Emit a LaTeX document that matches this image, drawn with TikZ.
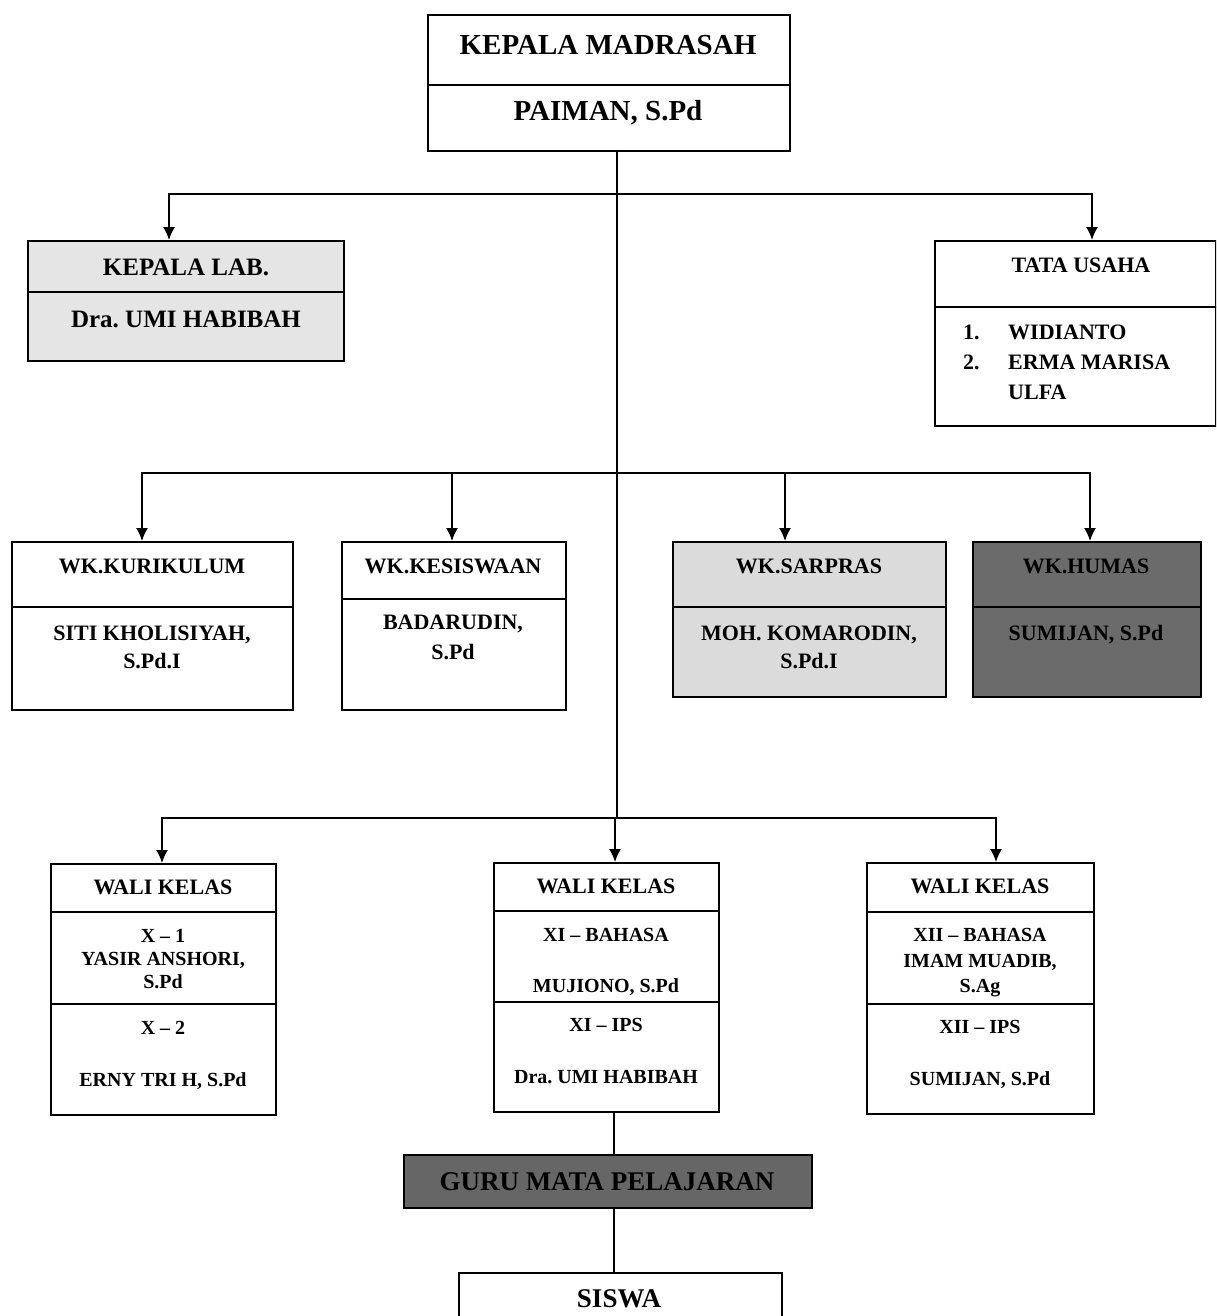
\documentclass[tikz,border=0pt]{standalone}
\usepackage{fontspec}
\setmainfont{Liberation Serif}
\usetikzlibrary{arrows.meta}
\frenchspacing
\begin{document}
\begin{tikzpicture}[x=1pt,y=-1pt,
  box/.style={draw, line width=1.6pt, inner sep=0pt, anchor=north west},
  ln/.style={line width=1.6pt},
  arr/.style={line width=1.6pt, -{Latex[length=13pt,width=12pt]}},
  tA/.style={font=\bfseries\fontsize{29}{34}\selectfont, anchor=base, inner sep=0pt},
  tB/.style={font=\bfseries\fontsize{25}{30}\selectfont, anchor=base, inner sep=0pt},
  tC/.style={font=\bfseries\fontsize{22}{28}\selectfont, anchor=base, inner sep=0pt},
  tD/.style={font=\bfseries\fontsize{20}{24}\selectfont, anchor=base, inner sep=0pt},
  tE/.style={font=\bfseries\fontsize{27}{32}\selectfont, anchor=base, inner sep=0pt},
  tW/.style={font=\bfseries\fontsize{22}{28}\selectfont, anchor=base west, inner sep=0pt}]
\useasboundingbox (0,0) rectangle (1216,1316);
\clip (0,0) rectangle (1216,1316);
\fill[white] (0,0) rectangle (1216,1316);

% ---- boxes ----
\node[box, minimum width=362, minimum height=136] (kepala) at (427,14) {};
\node[box, fill=black!10, minimum width=316, minimum height=120] (lab) at (27,240) {};
\node[box, minimum width=281, minimum height=185] (tu) at (934,240) {};
\node[box, minimum width=281, minimum height=168] (wk1) at (11,541) {};
\node[box, minimum width=224, minimum height=168] (wk2) at (341,541) {};
\node[box, fill=black!14, minimum width=273, minimum height=155] (wk3) at (672,541) {};
\node[box, fill=black!58, minimum width=228, minimum height=155] (wk4) at (972,541) {};
\node[box, minimum width=225, minimum height=251] (wl1) at (50,863) {};
\node[box, minimum width=225, minimum height=249] (wl2) at (493,862) {};
\node[box, minimum width=227, minimum height=251] (wl3) at (866,862) {};
\node[box, fill=black!60, minimum width=408, minimum height=53] (guru) at (403,1154) {};
\node[box, minimum width=323, minimum height=90] (siswa) at (458,1272) {};

% ---- dividers ----
\draw[ln] (kepala.west |- 0,85) -- (kepala.east |- 0,85);
\draw[ln] (lab.west |- 0,292) -- (lab.east |- 0,292);
\draw[ln] (tu.west |- 0,307) -- (tu.east |- 0,307);
\draw[ln] (wk1.west |- 0,607) -- (wk1.east |- 0,607);
\draw[ln] (wk2.west |- 0,599) -- (wk2.east |- 0,599);
\draw[ln] (wk3.west |- 0,607) -- (wk3.east |- 0,607);
\draw[ln] (wk4.west |- 0,607) -- (wk4.east |- 0,607);
\draw[ln] (wl1.west |- 0,912) -- (wl1.east |- 0,912);
\draw[ln] (wl1.west |- 0,1004) -- (wl1.east |- 0,1004);
\draw[ln] (wl2.west |- 0,911) -- (wl2.east |- 0,911);
\draw[ln] (wl2.west |- 0,1002) -- (wl2.east |- 0,1002);
\draw[ln] (wl3.west |- 0,912) -- (wl3.east |- 0,912);
\draw[ln] (wl3.west |- 0,1004) -- (wl3.east |- 0,1004);

% ---- connectors ----
\coordinate (t0) at (617,150);
\coordinate (j1) at (617,194);
\coordinate (j2) at (617,473);
\coordinate (j3) at (617,818);
\coordinate (aLab) at (169,240);
\coordinate (aTU) at (1092,240);
\coordinate (aW1) at (142,541);
\coordinate (aW2) at (452,541);
\coordinate (aW3) at (785,541);
\coordinate (aW4) at (1090,541);
\coordinate (aL1) at (162,863);
\coordinate (aL2) at (615,862);
\coordinate (aL3) at (996,862);
\draw[ln] (t0) -- (j3);
\draw[arr] (j1) -| (aLab);
\draw[arr] (j1) -| (aTU);
\draw[arr] (j2) -| (aW1);
\draw[arr] (j2) -| (aW2);
\draw[arr] (j2) -| (aW3);
\draw[arr] (j2) -| (aW4);
\draw[arr] (j3) -| (aL1);
\draw[arr] (j3) -| (aL2);
\draw[arr] (j3) -| (aL3);
\coordinate (g0) at (614,1111);
\coordinate (g1) at (614,1154);
\coordinate (s0) at (614,1207);
\coordinate (s1) at (614,1272);
\draw[ln] (g0) -- (g1);
\draw[ln] (s0) -- (s1);

% ---- texts ----
\node[tA] (tx1) at (608,55) {KEPALA MADRASAH};
\node[tA] (tx2) at (608,121) {PAIMAN, S.Pd};
\node[tB] (tx3) at (186,275) {KEPALA LAB.};
\node[tB] (tx4) at (186,327) {Dra. UMI HABIBAH};
\node[tC] (tx5) at (1081,272) {TATA USAHA};
\node[tW] (tx6) at (963,339) {1.};
\node[tW] (tx7) at (1008,339) {WIDIANTO};
\node[tW] (tx8) at (963,369) {2.};
\node[tW] (tx9) at (1008,369) {ERMA MARISA};
\node[tW] (tx10) at (1008,399) {ULFA};

\node[tC] (tx11) at (152,573) {WK.KURIKULUM};
\node[tC] (tx12) at (152,640) {SITI KHOLISIYAH,};
\node[tC] (tx13) at (152,668) {S.Pd.I};
\node[tC] (tx14) at (453,573) {WK.KESISWAAN};
\node[tC] (tx15) at (453,629) {BADARUDIN,};
\node[tC] (tx16) at (453,659) {S.Pd};
\node[tC] (tx17) at (809,573) {WK.SARPRAS};
\node[tC] (tx18) at (809,640) {MOH. KOMARODIN,};
\node[tC] (tx19) at (809,668) {S.Pd.I};
\node[tC] (tx20) at (1086,573) {WK.HUMAS};
\node[tC] (tx21) at (1086,640) {SUMIJAN, S.Pd};

\node[tC] (tx22) at (163,894) {WALI KELAS};
\node[tD] (tx23) at (163,942) {X -- 1};
\node[tD] (tx24) at (163,965) {YASIR ANSHORI,};
\node[tD] (tx25) at (163,988) {S.Pd};
\node[tD] (tx26) at (163,1034) {X -- 2};
\node[tD] (tx27) at (163,1086) {ERNY TRI H, S.Pd};

\node[tC] (tx28) at (606,893) {WALI KELAS};
\node[tD] (tx29) at (606,941) {XI -- BAHASA};
\node[tD] (tx30) at (606,992) {MUJIONO, S.Pd};
\node[tD] (tx31) at (606,1031) {XI -- IPS};
\node[tD] (tx32) at (606,1083) {Dra. UMI HABIBAH};

\node[tC] (tx33) at (980,893) {WALI KELAS};
\node[tD] (tx34) at (980,941) {XII -- BAHASA};
\node[tD] (tx35) at (980,967) {IMAM MUADIB,};
\node[tD] (tx36) at (980,992) {S.Ag};
\node[tD] (tx37) at (980,1033) {XII -- IPS};
\node[tD] (tx38) at (980,1085) {SUMIJAN, S.Pd};

\node[tE] (tx39) at (607,1190) {GURU MATA PELAJARAN};
\node[tE] (tx40) at (619,1307) {SISWA};
\end{tikzpicture}
\end{document}
